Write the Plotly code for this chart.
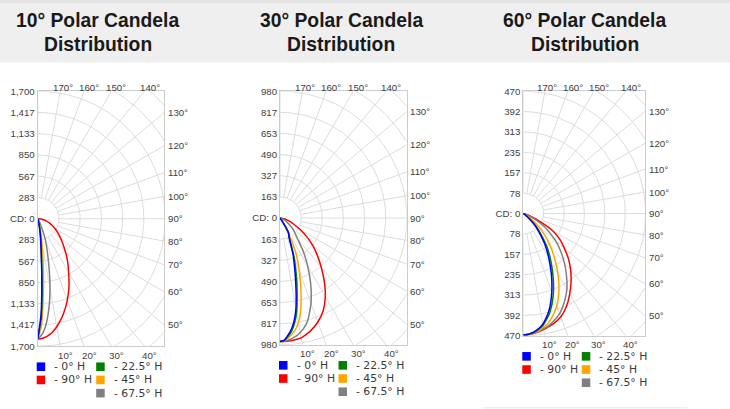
import numpy as np
import plotly.graph_objects as go

W, H = 730, 409

# ---------------- data ----------------
panel_titles = ["10° Polar Candela", "30° Polar Candela", "60° Polar Candela"]
panel_subtitle = "Distribution"

vertical_angles = [0, 2, 4, 6, 8, 10, 12, 15, 20, 25, 30, 35, 40, 45, 50, 55, 60, 65, 70, 75, 80, 85, 90]

series_names = ["0° H", "22.5° H", "45° H", "67.5° H", "90° H"]
series_colors = ["#0000ff", "#008000", "#ffa500", "#808080", "#ff0000"]

# 10° beam (candela)
cd10_h0 = [1604, 1280, 780, 440, 280, 175, 105, 40, 10, 0, 0, 0, 0, 0, 0, 0, 0, 0, 0, 0, 0, 0, 0]
cd10_h22 = [1604, 1330, 850, 470, 310, 200, 115, 45, 12, 0, 0, 0, 0, 0, 0, 0, 0, 0, 0, 0, 0, 0, 0]
cd10_h45 = [1604, 1430, 1050, 735, 485, 315, 212, 98, 30, 10, 0, 0, 0, 0, 0, 0, 0, 0, 0, 0, 0, 0, 0]
cd10_h67 = [1604, 1548, 1450, 1300, 1130, 945, 760, 530, 300, 120, 40, 10, 0, 0, 0, 0, 0, 0, 0, 0, 0, 0, 0]
cd10_h90 = [1604, 1598, 1580, 1550, 1510, 1462, 1406, 1318, 1155, 988, 825, 695, 575, 475, 395, 328, 268, 214, 165, 120, 78, 38, 0]

# 30° beam (candela)
cd30_h0 = [955, 945, 905, 860, 795, 710, 600, 455, 290, 165, 130, 25, 0, 0, 0, 0, 0, 0, 0, 0, 0, 0, 0]
cd30_h22 = [955, 948, 915, 875, 815, 740, 636, 500, 315, 175, 135, 25, 0, 0, 0, 0, 0, 0, 0, 0, 0, 0, 0]
cd30_h45 = [955, 948, 928, 900, 868, 820, 756, 630, 438, 275, 90, 15, 0, 0, 0, 0, 0, 0, 0, 0, 0, 0, 0]
cd30_h67 = [955, 952, 945, 933, 920, 899, 874, 824, 700, 561, 428, 312, 212, 166, 126, 87, 60, 40, 25, 14, 7, 3, 0]
cd30_h90 = [955, 954, 953, 950, 946, 941, 927, 905, 855, 790, 701, 597, 496, 408, 330, 254, 184, 123, 88, 55, 30, 12, 0]

# 60° beam (candela)
cd60_h0 = [466, 465, 460, 453, 444, 432, 414, 384, 320, 255, 195, 145, 95, 60, 25, 8, 2, 0, 0, 0, 0, 0, 0]
cd60_h22 = [466, 465, 461, 455, 447, 436, 420, 394, 336, 272, 212, 160, 107, 70, 30, 10, 3, 0, 0, 0, 0, 0, 0]
cd60_h45 = [466, 465, 462, 457, 452, 444, 436, 417, 377, 324, 266, 209, 160, 116, 73, 34, 12, 3, 0, 0, 0, 0, 0]
cd60_h67 = [466, 465, 463, 460, 456, 449, 444, 433, 409, 374, 335, 289, 245, 202, 161, 118, 77, 40, 15, 5, 0, 0, 0]
cd60_h90 = [466, 465, 464, 461, 457, 452, 447, 440, 422, 393, 357, 320, 283, 245, 205, 170, 128, 66, 25, 8, 3, 0, 0]

panel_series = [
    [cd10_h0, cd10_h22, cd10_h45, cd10_h67, cd10_h90],
    [cd30_h0, cd30_h22, cd30_h45, cd30_h67, cd30_h90],
    [cd60_h0, cd60_h22, cd60_h45, cd60_h67, cd60_h90],
]

scale_max = [1700, 980, 470]
radial_labels_10 = ["283", "567", "850", "1,133", "1,417", "1,700"]
radial_labels_30 = ["163", "327", "490", "653", "817", "980"]
radial_labels_60 = ["78", "157", "235", "313", "392", "470"]
radial_labels = [radial_labels_10, radial_labels_30, radial_labels_60]
center_label = "CD: 0"

angle_ticks = [10, 20, 30, 40, 50, 60, 70, 80, 90, 100, 110, 120, 130, 140, 150, 160, 170]

# ---------------- layout geometry (target pixels) ----------------
boxes = [(37.7, 164.3, 90.7, 345.7), (280.0, 406.7, 90.7, 344.3), (523.3, 645.3, 90.7, 335.3)]
title_x = [97.5, 341.0, 584.5]
legend_slots = [(0, 0), (1, 0), (1, 1), (1, 2), (0, 1)]  # (col,row) per series
draw_order = [4, 3, 2, 1, 0]

# the captured page is offset / squeezed a little vertically; compensate
Y_OFF, Y_SCALE = 5.5, 0.973


def px(x):
    return x / W


def py(y):
    return 1 - ((y - Y_OFF) / Y_SCALE) / H


LABEL_FONT = dict(family="Liberation Sans Narrow, Arial Narrow, Liberation Sans, Arial, sans-serif",
                  size=9.7, color="#404040")
LEG_FONT = dict(family="DejaVu Sans, Verdana, sans-serif", size=10.8, color="#3a3a3a")
TITLE_FONT = dict(family="Liberation Sans, Arial, Helvetica, sans-serif", size=19.3, color="#1a1a1a")

fig = go.Figure()
shapes = []
annotations = []

# header band
shapes.append(dict(type="rect", xref="paper", yref="paper", x0=0, x1=1, y0=py(62), y1=1.05,
                   fillcolor="#efefef", line=dict(width=0), layer="below"))
shapes.append(dict(type="rect", xref="paper", yref="paper", x0=0, x1=1, y0=py(2.5), y1=1.05,
                   fillcolor="#e3e3e3", line=dict(width=0), layer="below"))
shapes.append(dict(type="line", xref="paper", yref="paper", x0=px(483), x1=px(687), y0=py(407.3), y1=py(407.3),
                   line=dict(color="#e6e6e6", width=1)))

for p in range(3):
    sfx = "" if p == 0 else str(p + 1)
    xr, yr = "x" + sfx, "y" + sfx
    R = scale_max[p]
    x0, x1, yt, yb = boxes[p]
    half = (yb - yt) / 2
    xmax = R * (x1 - x0) / half
    step = R / 6

    # polar grid: circles and rays
    gx, gy = [], []
    th = np.radians(np.linspace(0, 180, 181))
    for k in range(1, 9):
        gx += list(k * step * np.sin(th)) + [None]
        gy += list(-k * step * np.cos(th)) + [None]
    for a in range(0, 181, 10):
        t = np.radians(a)
        gx += [step * np.sin(t), 3 * R * np.sin(t), None]
        gy += [-step * np.cos(t), -3 * R * np.cos(t), None]
    fig.add_trace(go.Scatter(x=gx, y=gy, mode="lines", line=dict(color="#dcdcdc", width=1),
                             xaxis=xr, yaxis=yr, hoverinfo="skip", showlegend=False))

    # candela curves
    tv = np.radians(vertical_angles)
    for s in draw_order:
        cd = np.array(panel_series[p][s], dtype=float)
        fig.add_trace(go.Scatter(x=cd * np.sin(tv), y=-cd * np.cos(tv), mode="lines",
                                 line=dict(color=series_colors[s], width=1.5, shape="spline", smoothing=0.6),
                                 name=series_names[s], xaxis=xr, yaxis=yr, showlegend=False))

    # axes
    labels = radial_labels[p]
    tickvals = [-(i + 1) * step for i in range(6)][::-1] + [0] + [(i + 1) * step for i in range(6)]
    ticktext = labels[::-1] + [center_label] + labels
    fig.update_layout(**{
        "xaxis" + sfx: dict(domain=[px(x0), px(x1)], range=[0, xmax], showgrid=False, zeroline=False,
                            showticklabels=False, ticks="", showline=True, mirror=True,
                            linecolor="#cccccc", linewidth=1, fixedrange=True, anchor=yr),
        "yaxis" + sfx: dict(domain=[py(yb), py(yt)], range=[-R, R], showgrid=False, zeroline=False,
                            tickvals=tickvals, ticktext=ticktext, tickfont=LABEL_FONT, ticks="",
                            showline=True, mirror=True, linecolor="#cccccc", linewidth=1,
                            fixedrange=True, anchor=xr),
    })

    # angle labels where rays meet the box
    for a in angle_ticks:
        t = np.radians(a)
        sx, cy = np.sin(t), -np.cos(t)
        s_x = xmax / sx
        s_y = R / abs(cy) if abs(cy) > 1e-9 else 1e12
        if s_x <= s_y:
            annotations.append(dict(x=xmax, y=s_x * cy, xref=xr, yref=yr, text=f"{a}°", showarrow=False,
                                    xanchor="left", yanchor="middle", xshift=1.5, font=LABEL_FONT))
        elif cy > 0:
            annotations.append(dict(x=s_y * sx, y=R, xref=xr, yref=yr, text=f"{a}°", showarrow=False,
                                    xanchor="center", yanchor="middle", xshift=(2.5 if a == 170 else 5),
                                    yshift=3.5, font=LABEL_FONT))
        else:
            annotations.append(dict(x=s_y * sx, y=-R, xref=xr, yref=yr, text=f"{a}°", showarrow=False,
                                    xanchor="center", yanchor="middle", xshift=5, yshift=-9, font=LABEL_FONT))

    # titles
    annotations.append(dict(x=px(title_x[p]), y=py(20), xref="paper", yref="paper",
                            text="<b>" + panel_titles[p] + "</b>", showarrow=False,
                            xanchor="center", yanchor="middle", font=TITLE_FONT))
    annotations.append(dict(x=px(title_x[p]), y=py(43.5), xref="paper", yref="paper",
                            text="<b>" + panel_subtitle + "</b>", showarrow=False,
                            xanchor="center", yanchor="middle", font=TITLE_FONT))

    # legend (colour squares + labels)
    for s in range(5):
        col, row = legend_slots[s]
        lx = x0 - 1 if col == 0 else x0 + 58.5
        ly = yb + 20.5 + 13.2 * row
        shapes.append(dict(type="rect", xref="paper", yref="paper", x0=px(lx), x1=px(lx + 8.5),
                           y0=py(ly + 4.3), y1=py(ly - 4.3), fillcolor=series_colors[s],
                           line=dict(width=0)))
        annotations.append(dict(x=px(lx + 15.5), y=py(ly), xref="paper", yref="paper",
                                text="- " + series_names[s], showarrow=False,
                                xanchor="left", yanchor="middle", font=LEG_FONT))

fig.update_layout(width=W, height=H, margin=dict(l=0, r=0, t=0, b=0),
                  paper_bgcolor="white", plot_bgcolor="white", showlegend=False,
                  shapes=shapes, annotations=annotations)

fig.write_html("out.html", config={"displayModeBar": False},
               post_script="var d=document.getElementById('{plot_id}');"
                           "d.style.position='fixed';d.style.top='0px';d.style.left='0px';"
                           "document.documentElement.style.margin='0';document.body.style.margin='0';"
                           "document.documentElement.style.overflow='hidden';")
